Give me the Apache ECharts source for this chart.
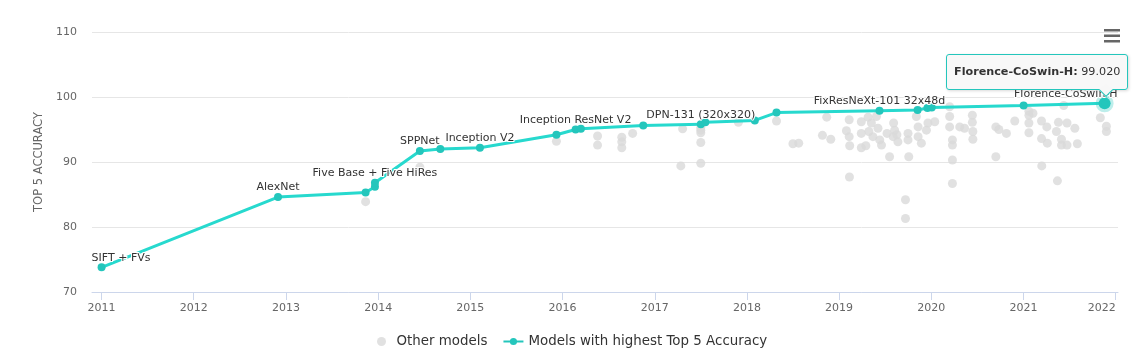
<!DOCTYPE html>
<html>
<head>
<meta charset="utf-8">
<script src="https://cdn.jsdelivr.net/npm/echarts@6.0.0/dist/echarts.min.js"></script>
<style>
html,body{margin:0;padding:0;background:#fff;}
#chart{width:1139px;height:362px;}
</style>
</head>
<body>
<div id="chart"></div>
<script>
// ---------- data ----------
const yearTicks = ['2011','2012','2013','2014','2015','2016','2017','2018','2019','2020','2021','2022'];
const xRange = ['2010-11-24', '2022-01-10'];
const yTicks = [70, 80, 90, 100, 110];

const bestDates = ['2011-01-01','2012-11-30','2013-11-12','2013-12-19','2013-12-19','2014-06-15','2014-09-04',
  '2015-02-08','2015-12-08','2016-02-22','2016-03-14','2016-11-16','2017-07-02','2017-07-20','2018-02-01',
  '2018-04-28','2019-06-10','2019-11-08','2019-12-17','2020-01-03','2021-01-01','2021-11-18'];
const bestValues = [73.8, 84.6, 85.3, 86.2, 86.8, 91.7, 92.0,
  92.2, 94.2, 95.0, 95.1, 95.6, 95.8, 96.1, 96.4,
  97.6, 97.9, 98.0, 98.3, 98.4, 98.7, 99.02];
const bestLabels = ['SIFT + FVs','AlexNet','','','Five Base + Five HiRes','SPPNet','',
  'Inception V2','','Inception ResNet V2','','','DPN-131 (320x320)','','',
  '','FixResNeXt-101 32x48d','','','','','Florence-CoSwin-H'];

const otherDates = ['2013-11-12','2014-06-15','2015-12-08','2016-05-19','2016-05-19','2016-08-23','2016-08-23','2016-08-23',
  '2016-10-05','2017-04-21','2017-04-14','2017-07-02','2017-07-02','2017-07-02','2017-07-02','2017-07-02',
  '2017-11-28','2018-04-28','2018-07-02','2018-07-25','2018-10-27','2018-11-13','2018-11-29','2019-02-10',
  '2019-01-30','2019-02-10','2019-02-12','2019-02-11','2019-03-30','2019-03-30','2019-03-30','2019-04-17',
  '2019-04-26','2019-05-09','2019-04-29','2019-05-15','2019-05-29','2019-06-04','2019-06-11','2019-06-18',
  '2019-07-10','2019-07-20','2019-08-05','2019-08-09','2019-08-03','2019-08-18','2019-08-22','2019-09-21',
  '2019-09-21','2019-10-01','2019-10-01','2019-10-04','2019-11-03','2019-11-10','2019-11-10','2019-11-23',
  '2019-12-13','2019-12-19','2020-01-15','2020-03-14','2020-03-14','2020-03-14','2020-03-25','2020-03-25',
  '2020-03-25','2020-03-25','2020-04-23','2020-05-12','2020-06-12','2020-06-12','2020-06-14','2020-06-14',
  '2020-09-13','2020-09-25','2020-09-13','2020-10-25','2020-11-27','2021-01-22','2021-01-22','2021-01-22',
  '2021-01-22','2021-02-07','2021-03-13','2021-03-13','2021-04-03','2021-04-05','2021-03-14','2021-05-11',
  '2021-05-19','2021-06-22','2021-07-23','2021-05-31','2021-05-31','2021-06-22','2021-08-02','2021-05-15',
  '2021-06-09','2021-11-01','2021-11-25','2021-11-25'];
const otherValues = [83.9, 89.2, 93.2, 94.0, 92.6, 93.8, 93.1, 92.2,
  94.4, 95.1, 89.4, 95.3, 94.9, 94.5, 93.0, 89.8,
  96.1, 96.3, 92.8, 92.9, 94.1, 96.9, 93.5, 96.5,
  94.8, 93.9, 92.5, 87.7, 96.2, 94.4, 92.2, 92.5,
  96.9, 96.0, 94.7, 93.9, 97.0, 95.2, 93.4, 92.6,
  94.4, 90.8, 96.0, 94.9, 93.9, 94.2, 93.1, 84.2,
  81.3, 94.4, 93.4, 90.8, 97.0, 95.4, 93.9, 92.9,
  94.9, 96.0, 96.2, 98.5, 97.0, 95.4, 93.4, 92.6,
  90.3, 86.7, 95.4, 95.2, 97.2, 96.1, 94.7, 93.5,
  95.4, 95.0, 90.8, 94.4, 96.3, 97.8, 97.2, 96.0,
  94.5, 97.5, 96.3, 93.6, 95.4, 92.9, 89.4, 94.7,
  96.1, 96.0, 95.2, 93.5, 92.6, 92.6, 92.8, 87.1,
  98.7, 96.8, 95.5, 94.7];

// ---------- styles ----------
const TEAL = '#24c6bc';
const GREY = '#d9d9d9';
const FONT = 'DejaVu Sans';

function toTime(s) {
  const p = s.split('-').map(Number);
  return Date.UTC(p[0], p[1] - 1, p[2]);
}

const yearTickValues = yearTicks.map(y => Date.UTC(+y, 0, 1));
const otherData = otherDates.map((d, i) => [toTime(d), otherValues[i]]);
const lastIdx = bestDates.length - 1;
const bestData = bestDates.map((d, i) => {
  const item = { name: bestLabels[i], value: [toTime(d), bestValues[i]] };
  if (bestLabels[i]) {
    item.label = { show: true };
    if (i === 0) { item.label.align = 'left'; item.label.offset = [-10, 0]; }
    if (i === lastIdx) {
      item.label.align = 'right';
      item.label.offset = [13, 0];
      item.emphasis = { label: { show: true, align: 'right', offset: [13, 0], distance: -5 } };
    }
  }
  return item;
});

const chart = echarts.init(document.getElementById('chart'), null, { renderer: 'canvas' });

chart.setOption({
  animation: false,
  textStyle: { fontFamily: FONT },
  grid: { left: 92, right: 21, top: 32, bottom: 70 },
  toolbox: {
    show: true,
    right: 4,
    top: 14,
    itemSize: 16,
    iconStyle: { color: '#666', borderWidth: 0 },
    emphasis: { iconStyle: { color: '#666', borderWidth: 0, textFill: 'transparent' } },
    feature: {
      myMenu: {
        show: true,
        title: ' ',
        icon: 'path://M0,0H16V2.6H0Z M0,5.5H16V8.1H0Z M0,11H16V13.6H0Z',
        onclick: function () {}
      }
    }
  },
  legend: {
    left: 372,
    top: 330,
    itemGap: 15,
    itemWidth: 20,
    itemHeight: 9,
    textStyle: { color: '#333', fontSize: 13.4, fontFamily: FONT },
    data: ['Other models', 'Models with highest Top 5 Accuracy']
  },
  tooltip: {
    trigger: 'item',
    triggerOn: 'none',
    alwaysShowContent: true,
    transitionDuration: 0,
    backgroundColor: 'rgba(247,247,247,0.92)',
    borderColor: TEAL,
    borderWidth: 1,
    padding: [8, 7],
    textStyle: { color: '#333', fontSize: 11.2, fontFamily: FONT },
    extraCssText: 'border-radius:3px;box-shadow:1px 1px 3px rgba(0,0,0,0.15);overflow:visible;',
    position: function (point) {
      return [point[0] - 159, point[1] - 49];
    },
    formatter: function (p) {
      return '<div style="line-height:18px;white-space:nowrap;"><b>' + p.name + ':</b> ' +
        p.value[1].toFixed(3) + '</div>' +
        '<div style="position:absolute;left:154px;bottom:-6px;width:9px;height:9px;background:#f7f7f7;' +
        'border-right:1px solid ' + TEAL + ';border-bottom:1px solid ' + TEAL + ';transform:rotate(45deg);"></div>';
    }
  },
  xAxis: {
    type: 'value',
    min: toTime(xRange[0]),
    max: toTime(xRange[1]),
    axisLine: { show: true, lineStyle: { color: '#ccd6eb', width: 1 } },
    axisTick: {
      show: true,
      length: 8,
      lineStyle: { color: '#ccd6eb' },
      customValues: yearTickValues
    },
    axisLabel: {
      color: '#666',
      fontSize: 11,
      margin: 11,
      fontFamily: FONT,
      alignMaxLabel: 'right',
      customValues: yearTickValues,
      formatter: function (v) { return String(new Date(v).getUTCFullYear()); }
    },
    splitLine: { show: false }
  },
  yAxis: {
    type: 'value',
    min: yTicks[0],
    max: yTicks[yTicks.length - 1],
    interval: 10,
    name: 'TOP 5 ACCURACY',
    nameLocation: 'middle',
    nameGap: 46,
    nameRotate: 90,
    nameTextStyle: { color: '#666', fontSize: 11.5, fontFamily: FONT },
    axisLine: { show: false },
    axisTick: { show: false },
    axisLabel: { color: '#666', fontSize: 11, margin: 15, fontFamily: FONT },
    splitLine: { lineStyle: { color: '#e6e6e6', width: 1 } }
  },
  series: [
    {
      name: 'Other models',
      type: 'scatter',
      data: otherData,
      symbol: 'circle',
      symbolSize: 9,
      itemStyle: { color: GREY },
      emphasis: { disabled: true },
      z: 2
    },
    {
      name: 'Models with highest Top 5 Accuracy',
      type: 'line',
      data: bestData,
      symbol: 'circle',
      symbolSize: 8,
      showAllSymbol: true,
      lineStyle: { color: TEAL, width: 3 },
      itemStyle: { color: TEAL },
      label: {
        show: false,
        position: 'top',
        distance: 0,
        color: '#333',
        fontSize: 11,
        fontFamily: FONT,
        textBorderColor: '#fff',
        textBorderWidth: 2,
        formatter: '{b}'
      },
      emphasis: {
        scale: 1.5,
        focus: 'none',
        lineStyle: { width: 3 },
        itemStyle: { color: TEAL, borderColor: 'rgba(36,198,188,0.3)', borderWidth: 6 }
      },
      z: 3
    }
  ]
});

chart.dispatchAction({ type: 'highlight', seriesIndex: 1, dataIndex: lastIdx });
chart.dispatchAction({ type: 'showTip', seriesIndex: 1, dataIndex: lastIdx });
</script>
</body>
</html>
